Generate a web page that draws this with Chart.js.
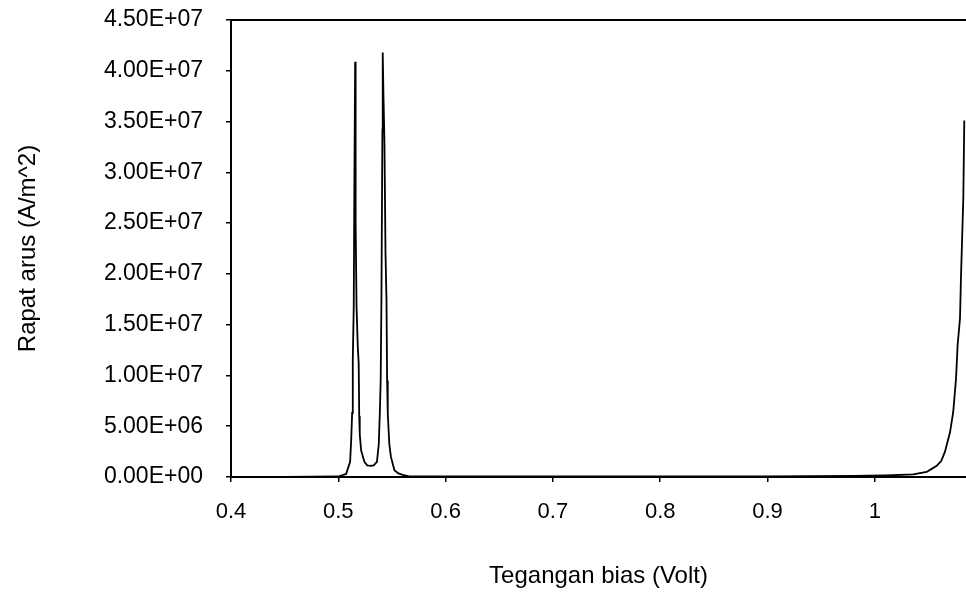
<!DOCTYPE html>
<html>
<head>
<meta charset="utf-8">
<script src="https://cdn.jsdelivr.net/npm/chart.js@4/dist/chart.umd.min.js"></script>
<style>
    html, body { margin: 0; padding: 0; background: #fff; }
    #iv-chart { display: block; }
</style>
</head>
<body>
<canvas id="iv-chart" width="966" height="594"></canvas>
<script>
// bias voltage (V) vs current density (A/m^2)
var voltage = [
    0.400, 0.450, 0.500, 0.5073, 0.5110, 0.5120, 0.5129, 0.5135, 0.5144, 0.5150,
    0.5157, 0.5160, 0.5163, 0.5170, 0.5181, 0.5190, 0.5195, 0.5200, 0.5213, 0.5243,
    0.5270, 0.5300, 0.5330, 0.5360, 0.5377, 0.5387, 0.5395, 0.5402, 0.5411, 0.5414,
    0.5421, 0.5430, 0.5440, 0.5449, 0.5455, 0.5461, 0.5475, 0.5490, 0.5523, 0.5560,
    0.5600, 0.5660, 0.600, 0.700, 0.800, 0.900, 0.980, 1.0100, 1.0358, 1.0483,
    1.0530, 1.0577, 1.0620, 1.0654, 1.0701, 1.0731, 1.0757, 1.0772, 1.0794, 1.0803,
    1.0825, 1.0834
];
var currentDensity = [
    0, 0.02e6, 0.05e6, 0.3e6, 1.5e6, 3.6e6, 6.3e6, 11.5e6, 16.8e6, 29.2e6,
    40.9e6, 33e6, 25e6, 16.8e6, 13e6, 11.2e6, 6e6, 4.2e6, 2.6e6, 1.5e6,
    1.15e6, 1.1e6, 1.15e6, 1.5e6, 3.2e6, 6.3e6, 9.5e6, 17.7e6, 34.2e6, 41.8e6,
    37.5e6, 33e6, 22e6, 17.5e6, 9.5e6, 6.3e6, 3.3e6, 2.0e6, 0.66e6, 0.35e6,
    0.2e6, 0.07e6, 0.05e6, 0.05e6, 0.06e6, 0.07e6, 0.1e6, 0.15e6, 0.25e6, 0.5e6,
    0.8e6, 1.1e6, 1.6e6, 2.5e6, 4.4e6, 6.4e6, 9.7e6, 13.0e6, 15.6e6, 19.6e6,
    27.5e6, 35.1e6
];

var xTicks = [0.4, 0.5, 0.6, 0.7, 0.8, 0.9, 1];
var yTicks = [0, 5e6, 1e7, 1.5e7, 2e7, 2.5e7, 3e7, 3.5e7, 4e7, 4.5e7];

var fontFamily = "'Liberation Sans', Arial, sans-serif";

function sciLabel(v){
    var parts = Number(v).toExponential(2).split('e');
    var exp = parseInt(parts[1], 10);
    var sign = exp < 0 ? '-' : '+';
    var digits = Math.abs(exp);
    return parts[0] + 'E' + sign + (digits < 10 ? '0' + digits : digits);
}

// the plot frame only has a top edge besides the two axes
var topBorder = {
    id: 'topBorder',
    afterDraw: function(chart){
        var a = chart.chartArea;
        var ctx = chart.ctx;
        ctx.save();
        ctx.strokeStyle = '#000';
        ctx.lineWidth = 2;
        ctx.beginPath();
        ctx.moveTo(a.left, a.top);
        ctx.lineTo(a.right, a.top);
        ctx.stroke();
        ctx.restore();
    }
};

var points = [];
for(var i = 0; i < voltage.length; i++){
    points.push({x: voltage[i], y: currentDensity[i]});
}

var chart = new Chart(document.getElementById('iv-chart').getContext('2d'), {
    type: 'line',
    data: {
        datasets: [
            {
                data: points,
                borderColor: '#000',
                borderWidth: 1.8,
                pointRadius: 0,
                tension: 0,
                fill: false
            }
        ]
    },
    options: {
        responsive: false,
        animation: false,
        devicePixelRatio: 1,
        layout: { padding: { top: 20, right: 0, bottom: 0, left: 0 } },
        plugins: {
            legend: { display: false },
            tooltip: { enabled: false }
        },
        scales: {
            x: {
                type: 'linear',
                min: 0.4,
                max: 1.085,
                afterBuildTicks: function(scale){
                    scale.ticks = xTicks.map(function(v){ return {value: v}; });
                },
                afterFit: function(scale){ scale.height = 117; },
                ticks: {
                    color: '#000',
                    padding: 17,
                    maxRotation: 0,
                    font: { family: fontFamily, size: 22 },
                    callback: function(value){ return String(value); }
                },
                grid: {
                    display: true,
                    drawOnChartArea: false,
                    drawTicks: true,
                    tickLength: 5,
                    color: '#000',
                    lineWidth: 1.5
                },
                border: { display: true, color: '#000', width: 2 },
                title: {
                    display: true,
                    text: 'Tegangan bias (Volt)',
                    color: '#000',
                    font: { family: fontFamily, size: 24 },
                    padding: { top: 0, bottom: 3 }
                }
            },
            y: {
                min: 0,
                max: 4.5e7,
                afterBuildTicks: function(scale){
                    scale.ticks = yTicks.map(function(v){ return {value: v}; });
                },
                afterFit: function(scale){
                    scale.width = 231;
                    // labels may overhang the plot top, like the original
                    scale.paddingTop = 0;
                    scale.paddingBottom = 0;
                },
                ticks: {
                    color: '#000',
                    padding: 23,
                    font: { family: fontFamily, size: 23 },
                    callback: function(value){ return sciLabel(value); }
                },
                grid: {
                    display: true,
                    drawOnChartArea: false,
                    drawTicks: true,
                    tickLength: 5,
                    color: '#000',
                    lineWidth: 1.5
                },
                border: { display: true, color: '#000', width: 2 },
                title: {
                    display: true,
                    text: 'Rapat arus (A/m^2)',
                    color: '#000',
                    font: { family: fontFamily, size: 24 },
                    padding: { top: 14, bottom: 0 }
                }
            }
        }
    },
    plugins: [topBorder]
});
</script>
</body>
</html>
